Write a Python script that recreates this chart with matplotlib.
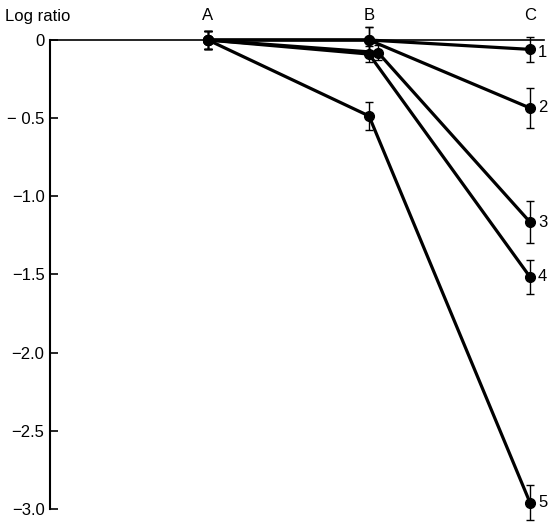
import matplotlib
matplotlib.use("Agg")
import matplotlib.pyplot as plt
from matplotlib import font_manager

names = {f.name for f in font_manager.fontManager.ttflist}
fam = "Liberation Sans Narrow" if "Liberation Sans Narrow" in names else "Liberation Sans"
plt.rcParams['font.family'] = [fam, 'DejaVu Sans']

categories = ["A", "B", "C"]
x_pos = [1, 2, 3]
series_labels = ["1", "2", "3", "4", "5"]
x_series = [
    [1, 2, 3],
    [1, 2, 3],
    [1, 2.056, 3],
    [1, 2, 3],
    [1, 2, 3],
]
y_series = [
    [0, 0, -0.06],
    [0, 0, -0.435],
    [0, -0.08, -1.165],
    [0, -0.09, -1.516],
    [0, -0.486, -2.96],
]
err_series = [
    [0.06, 0.08, 0.08],
    [0.06, 0.08, 0.13],
    [0.06, 0.05, 0.135],
    [0.06, 0.05, 0.11],
    [0.06, 0.09, 0.11],
]
label_y = [-0.08, -0.435, -1.165, -1.516, -2.96]
yticks = [0, -0.5, -1.0, -1.5, -2.0, -2.5, -3.0]
ytick_labels = ["0", "\u2212 0.5", "\u22121.0", "\u22121.5", "\u22122.0", "\u22122.5", "\u22123.0"]

W, H = 550, 524
fig = plt.figure(figsize=(W / 100, H / 100), dpi=100)
# pixel mapping: x=1 -> 208, spacing 161 ; y=0 -> 40, 156.3 px/unit
xl, xr = 0.019, 3.087
yb, yt = -3.09, 0.1
left = 208 - (1 - xl) * 161
right = 208 + (xr - 1) * 161
top = 40 - yt * 156.3
bottom = 40 - yb * 156.3
ax = fig.add_axes([left / W, 1 - bottom / H, (right - left) / W, (bottom - top) / H])
ax.set_xlim(xl, xr)
ax.set_ylim(yb, yt)

for xs, ys, es in zip(x_series, y_series, err_series):
    ax.errorbar(xs, ys, yerr=es, fmt='-o', color='black', lw=2.3, ms=7,
                elinewidth=1.0, capsize=3, capthick=1.0, zorder=3, clip_on=False)

for lab, ly in zip(series_labels, label_y):
    ax.text(3.05, ly, lab, ha='left', va='center', fontsize=12, clip_on=False)

ax.spines['top'].set_visible(False)
ax.spines['right'].set_visible(False)
ax.spines['bottom'].set_position(('data', 0))
ax.spines['bottom'].set_linewidth(1.2)
ax.spines['left'].set_bounds(-3.0, 0)
ax.spines['left'].set_linewidth(1.5)

ax.xaxis.tick_top()
ax.set_xticks(x_pos, categories)
ax.tick_params(axis='x', length=0, pad=1, labelsize=12)
ax.set_yticks(yticks, ytick_labels)
ax.tick_params(axis='y', direction='in', length=6, width=1.2, pad=4, labelsize=12)

fig.text(5 / W, 1 - 16 / H, "Log ratio", ha='left', va='center', fontsize=12)

fig.savefig("out.png", dpi=100)
